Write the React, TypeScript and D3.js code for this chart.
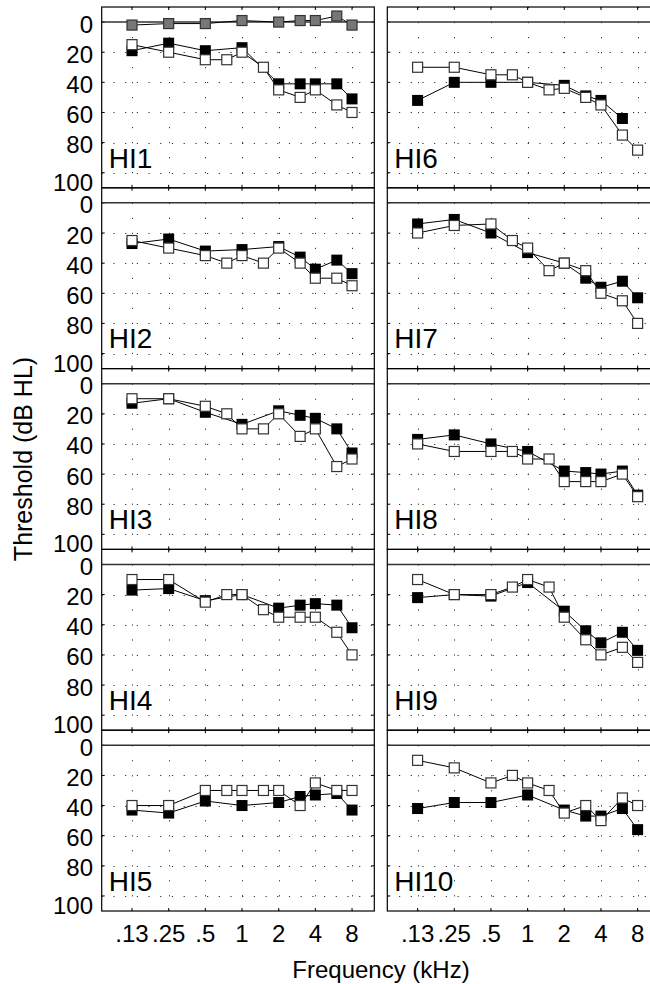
import React from 'react';
import * as d3 from 'd3';

// ---------- data ----------
const frequencies = [125, 250, 500, 750, 1000, 1500, 2000, 3000, 4000, 6000, 8000];
const xTickValues = [125, 250, 500, 1000, 2000, 4000, 8000];
const xTickLabels = ['.13', '.25', '.5', '1', '2', '4', '8'];
const yTickValues = [0, 20, 40, 60, 80, 100];
const yTickLabels = ['0', '20', '40', '60', '80', '100'];
const listeners = ['HI1', 'HI2', 'HI3', 'HI4', 'HI5', 'HI6', 'HI7', 'HI8', 'HI9', 'HI10'];

// filled squares (no 750 / 1500 Hz measurement)
const filledHI1 = [19, 14, 19, null, 17, null, 41, 41, 41, 41, 51];
const filledHI2 = [27, 24, 32, null, 31, null, 29, 36, 44, 38, 47];
const filledHI3 = [13, 10, 19, null, 27, null, 18, 21, 23, 30, 46];
const filledHI4 = [17, 16, 24, null, 20, null, 29, 27, 26, 27, 42];
const filledHI5 = [43, 45, 37, null, 40, null, 38, 34, 33, 32, 43];
const filledHI6 = [52, 40, 40, null, 40, null, 42, 49, 52, 64, null];
const filledHI7 = [14, 11, 20, null, 33, null, 40, 50, 56, 52, 63];
const filledHI8 = [37, 34, 40, null, 45, null, 58, 59, 60, 58, 74];
const filledHI9 = [22, 20, 21, null, 12, null, 31, 44, 52, 45, 57];
const filledHI10 = [42, 38, 38, null, 33, null, 43, 47, 47, 42, 56];

// open squares
const openHI1 = [15, 20, 25, 25, 20, 30, 45, 50, 45, 55, 60];
const openHI2 = [25, 30, 35, 40, 35, 40, 30, 40, 50, 50, 55];
const openHI3 = [10, 10, 15, 20, 30, 30, 20, 35, 30, 55, 50];
const openHI4 = [10, 10, 25, 20, 20, 30, 35, 35, 35, 45, 60];
const openHI5 = [40, 40, 30, 30, 30, 30, 30, 40, 25, 30, 30];
const openHI6 = [30, 30, 35, 35, 40, 45, 44, 50, 55, 75, 85];
const openHI7 = [20, 15, 14, 25, 30, 45, 40, 45, 60, 65, 80];
const openHI8 = [40, 45, 45, 45, 50, 50, 65, 65, 65, 60, 75];
const openHI9 = [10, 20, 20, 15, 10, 15, 35, 50, 60, 55, 65];
const openHI10 = [10, 15, 25, 20, 25, 30, 45, 40, 50, 35, 40];

// grey squares in HI1 panel
const greyHI1 = [2, 1, 1, null, -1, null, 0, -1, -1, -4, 2];

const filledSeries = [filledHI1, filledHI2, filledHI3, filledHI4, filledHI5, filledHI6, filledHI7, filledHI8, filledHI9, filledHI10];
const openSeries = [openHI1, openHI2, openHI3, openHI4, openHI5, openHI6, openHI7, openHI8, openHI9, openHI10];

// ---------- layout ----------
const W = 650;
const H = 984;
const colLeft = [101.7, 387.3];
const panelW = 272.6;
const panelTop0 = 7;
const panelH = 180.8;
const font = '"Liberation Sans", Arial, sans-serif';

type Pt = { f: number; v: number };
const toPts = (vals: (number | null)[]): Pt[] =>
  frequencies.map((f, i) => ({ f, v: vals[i] as number })).filter((d) => d.v !== null && d.v !== undefined);

function Panel({ idx }: { idx: number }) {
  const col = idx < 5 ? 0 : 1;
  const row = idx % 5;
  const left = colLeft[col];
  const top = panelTop0 + row * panelH;
  const x = d3.scaleLog().domain([70.5, 12190]).range([left, left + panelW]);
  const y = d3.scaleLinear().domain([-10, 110]).range([top, top + panelH]);
  const line = d3
    .line<Pt>()
    .x((d) => x(d.f))
    .y((d) => y(d.v));

  const series: { pts: Pt[]; kind: string }[] = [];
  series.push({ pts: toPts(filledSeries[idx]), kind: 'filled' });
  series.push({ pts: toPts(openSeries[idx]), kind: 'open' });
  if (idx === 0) series.push({ pts: toPts(greyHI1), kind: 'grey' });

  const clipId = `clip${idx}`;
  return (
    <g>
      <defs>
        <clipPath id={clipId}>
          <rect x={left} y={top} width={panelW} height={panelH} />
        </clipPath>
      </defs>
      <g clipPath={`url(#${clipId})`}>
        {yTickValues.slice(1).map((v) => (
          <line
            key={'hg' + v}
            x1={left}
            x2={left + panelW}
            y1={Math.round(y(v)) + 0.5}
            y2={Math.round(y(v)) + 0.5}
            stroke="#333"
            strokeWidth={1}
            strokeDasharray="1.2,10.5"
          />
        ))}
        {xTickValues.map((f) => (
          <line
            key={'vg' + f}
            x1={Math.round(x(f)) + 0.5}
            x2={Math.round(x(f)) + 0.5}
            y1={top}
            y2={top + panelH}
            stroke="#333"
            strokeWidth={1}
            strokeDasharray="1.2,13.8"
          />
        ))}
        {/* ticks */}
        {xTickValues.map((f) => (
          <g key={'xt' + f}>
            <line x1={x(f)} x2={x(f)} y1={top} y2={top + 3} stroke="#000" strokeWidth={1} />
            <line x1={x(f)} x2={x(f)} y1={top + panelH} y2={top + panelH - 3} stroke="#000" strokeWidth={1} />
          </g>
        ))}
        {yTickValues.map((v) => (
          <g key={'yt' + v}>
            <line x1={left} x2={left + 3} y1={y(v)} y2={y(v)} stroke="#000" strokeWidth={1} />
            <line x1={left + panelW} x2={left + panelW - 3} y1={y(v)} y2={y(v)} stroke="#000" strokeWidth={1} />
          </g>
        ))}
        {/* zero line */}
        <line x1={left} x2={left + panelW} y1={y(0)} y2={y(0)} stroke="#333" strokeWidth={1.5} />
        {series.map((s, si) => (
          <g key={si}>
            <path d={line(s.pts) || ''} fill="none" stroke="#000" strokeWidth={1} />
            {s.pts.map((d, k) => {
              const size = s.kind === 'filled' ? 11 : 10;
              return (
                <rect
                  key={k}
                  x={x(d.f) - size / 2}
                  y={y(d.v) - size / 2}
                  width={size}
                  height={size}
                  fill={s.kind === 'filled' ? '#000' : s.kind === 'open' ? '#fff' : '#777'}
                  stroke={s.kind === 'filled' ? 'none' : '#333'}
                  strokeWidth={1.2}
                />
              );
            })}
          </g>
        ))}
        <text x={left + 7} y={top + 160.5} fontFamily={font} fontSize={28} fill="#000">
          {listeners[idx]}
        </text>
      </g>
      <rect x={left} y={top} width={panelW} height={panelH} fill="none" stroke="#000" strokeWidth={1.2} />
      {col === 0 &&
        yTickValues.map((v, k) => (
          <text
            key={'yl' + v}
            x={93}
            y={y(v) + (v === 100 ? 18 : 10.5)}
            textAnchor="end"
            fontFamily={font}
            fontSize={24}
            fill="#000"
          >
            {yTickLabels[k]}
          </text>
        ))}
      {row === 4 &&
        xTickValues.map((f, k) => (
          <text
            key={'xl' + f}
            x={x(f)}
            y={941.5}
            textAnchor="middle"
            fontFamily={font}
            fontSize={24}
            fill="#000"
          >
            {xTickLabels[k]}
          </text>
        ))}
    </g>
  );
}

export default function App() {
  return (
    <svg
      width={W}
      height={H}
      viewBox={`0 0 ${W} ${H}`}
      style={{ position: 'absolute', left: 0, top: 0, background: '#fff' }}
    >
      <rect x={0} y={0} width={W} height={H} fill="#fff" />
      {listeners.map((_, i) => (
        <Panel key={i} idx={i} />
      ))}
      <text
        transform={`translate(32, 459) rotate(-90)`}
        textAnchor="middle"
        fontFamily={font}
        fontSize={25}
        fill="#000"
      >
        Threshold (dB HL)
      </text>
      <text x={381} y={978} textAnchor="middle" fontFamily={font} fontSize={24} fill="#000">
        Frequency (kHz)
      </text>
    </svg>
  );
}
